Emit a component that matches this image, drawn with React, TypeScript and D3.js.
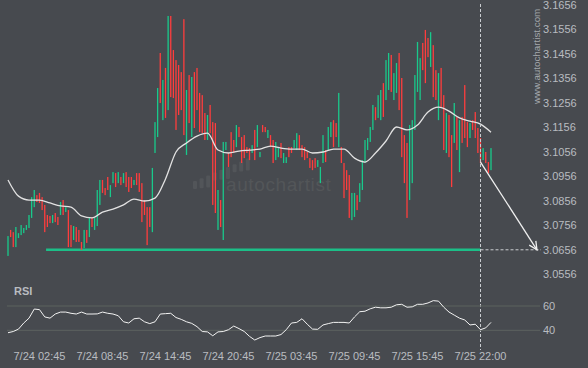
import React from 'react';
import * as d3 from 'd3';

// candle bodies, 15 min bars
const candleOpen = [
  3.0631, 3.0737, 3.0728, 3.0667, 3.0704, 3.0716, 3.0724, 3.0737, 3.0745, 3.0786,
  3.0830, 3.0879, 3.0888, 3.0871, 3.0839, 3.0798, 3.0794, 3.0765, 3.0806, 3.0790,
  3.0798, 3.0859, 3.0810, 3.0818, 3.0757, 3.0696, 3.0749, 3.0737, 3.0688, 3.0663,
  3.0737, 3.0708, 3.0790, 3.0737, 3.0753, 3.0839, 3.0941, 3.0908, 3.0953, 3.0871,
  3.0928, 3.0969, 3.0928, 3.0953, 3.0928, 3.0973, 3.0953, 3.0953, 3.0920, 3.0969,
  3.0969, 3.0928, 3.0859, 3.0830, 3.0830, 3.0728, 3.1051, 3.1116, 3.1459, 3.1185,
  3.1398, 3.1226, 3.1610, 3.1471, 3.1430, 3.1410, 3.1381, 3.1597, 3.1043, 3.1369,
  3.1116, 3.1381, 3.1398, 3.1296, 3.1287, 3.1214, 3.1104, 3.1247, 3.1177, 3.1173,
  3.0737, 3.0859, 3.0696, 3.1063, 3.1051, 3.1136, 3.1104, 3.1075, 3.1157, 3.1116,
  3.1124, 3.1075, 3.1071, 3.1051, 3.1145, 3.1075, 3.1034, 3.1165, 3.1157, 3.1112,
  3.1124, 3.1104, 3.1022, 3.1034, 3.1092, 3.1010, 3.1010, 3.1075, 3.1075, 3.1071,
  3.1063, 3.1124, 3.1083, 3.1075, 3.1055, 3.1030, 3.1022, 3.1030, 3.0994, 3.0928,
  3.1010, 3.1063, 3.1063, 3.1116, 3.1185, 3.1173, 3.1075, 3.1075, 3.1010, 3.0981,
  3.0961, 3.0777, 3.0790, 3.0879, 3.0851, 3.0900, 3.1010, 3.1063, 3.1096, 3.1145,
  3.1238, 3.1194, 3.1185, 3.1336, 3.1267, 3.1308, 3.1451, 3.1267, 3.1296, 3.1459,
  3.1357, 3.1124, 3.1092, 3.0859, 3.0928, 3.1145, 3.1300, 3.1267, 3.1500, 3.1553,
  3.1520, 3.1402, 3.1491, 3.1389, 3.1185, 3.1398, 3.1287, 3.1051, 3.1206, 3.1124,
  3.1092, 3.1198, 3.0973, 3.1198, 3.1328, 3.1177, 3.1112, 3.1185, 3.1218, 3.1153,
  3.1112, 3.1022, 3.1055, 3.1014, 3.0981,
];
const candleClose = [
  3.0712, 3.0708, 3.0667, 3.0749, 3.0724, 3.0757, 3.0745, 3.0757, 3.0798, 3.0871,
  3.0900, 3.0851, 3.0847, 3.0818, 3.0728, 3.0749, 3.0765, 3.0798, 3.0769, 3.0757,
  3.0851, 3.0798, 3.0830, 3.0667, 3.0667, 3.0753, 3.0688, 3.0688, 3.0655, 3.0737,
  3.0684, 3.0786, 3.0749, 3.0786, 3.0900, 3.0941, 3.0888, 3.0879, 3.0900, 3.0920,
  3.0973, 3.0912, 3.0973, 3.0920, 3.0969, 3.0912, 3.0892, 3.0908, 3.0941, 3.0920,
  3.0892, 3.0769, 3.0798, 3.0675, 3.0749, 3.0990, 3.1177, 3.1316, 3.1255, 3.1349,
  3.1194, 3.1610, 3.1279, 3.1275, 3.1145, 3.1206, 3.1226, 3.1124, 3.1308, 3.1173,
  3.1361, 3.1153, 3.1226, 3.1136, 3.1132, 3.1104, 3.1206, 3.1132, 3.0839, 3.0806,
  3.0900, 3.0749, 3.1096, 3.1096, 3.0994, 3.1034, 3.1051, 3.1165, 3.1116, 3.1010,
  3.1030, 3.1051, 3.1022, 3.1083, 3.1022, 3.1165, 3.1055, 3.1136, 3.1136, 3.1145,
  3.1075, 3.1010, 3.1096, 3.1071, 3.1030, 3.1051, 3.1034, 3.1034, 3.1051, 3.1104,
  3.1132, 3.1063, 3.1034, 3.1022, 3.1030, 3.0990, 3.0981, 3.0990, 3.1022, 3.0994,
  3.1124, 3.1014, 3.1157, 3.1177, 3.1075, 3.1116, 3.1296, 3.1010, 3.0867, 3.0900,
  3.0786, 3.0888, 3.0888, 3.0818, 3.0928, 3.1022, 3.1104, 3.1112, 3.1157, 3.1247,
  3.1185, 3.1287, 3.1308, 3.1198, 3.1430, 3.1459, 3.1300, 3.1377, 3.1418, 3.1226,
  3.1034, 3.0928, 3.0786, 3.1165, 3.1185, 3.1369, 3.1504, 3.1438, 3.1389, 3.1336,
  3.1442, 3.1544, 3.1279, 3.1267, 3.1377, 3.1238, 3.1063, 3.1214, 3.1034, 3.0912,
  3.1255, 3.1063, 3.1185, 3.1092, 3.1112, 3.1075, 3.1173, 3.1145, 3.1112, 3.1051,
  3.1010, 3.1071, 3.1010, 3.0969, 3.1071,
];

// moving average, one value every 4th bar
const maStep = 4;
const maValues = [
  3.0941, 3.0875, 3.0859, 3.0859, 3.0847, 3.0835, 3.0830, 3.0794, 3.0786, 3.0810,
  3.0822, 3.0839, 3.0863, 3.0855, 3.0867, 3.0945, 3.1055, 3.1092, 3.1120, 3.1132,
  3.1063, 3.1051, 3.1059, 3.1063, 3.1067, 3.1079, 3.1071, 3.1067, 3.1067, 3.1051,
  3.1055, 3.1067, 3.1067, 3.1030, 3.1014, 3.1051, 3.1100, 3.1157, 3.1145, 3.1165,
  3.1218, 3.1238, 3.1222, 3.1194, 3.1181, 3.1169, 3.1136,
];

// RSI, one value every 2nd bar
const rsiStep = 2;
const rsiValues = [
  38, 39, 41, 46, 50, 57.5, 57, 51, 50, 53.4,
  55, 55, 54, 53.4, 55, 53.4, 53.4, 53.5, 55, 54,
  53.4, 52, 47, 46, 49.5, 50, 47, 45.5, 47, 53.4,
  53.7, 54, 50.5, 49, 47, 45.7, 43, 39, 38.7, 35.5,
  38.7, 39, 40.5, 43.5, 41.4, 39, 35, 32, 34, 35.3,
  35.3, 35.3, 36.5, 40.5, 46, 46.5, 49.5, 45, 41, 40.8,
  44.4, 45.5, 46.5, 46.5, 46.5, 46, 51, 55.3, 55.7, 57.7,
  59, 58.5, 58.5, 59, 61, 61.4, 59, 59.3, 61.4, 61.4,
  62.5, 64.4, 64, 59, 55, 52.5, 50, 48.5, 44.4, 45,
  40.5, 42, 46.5,
];

const priceTicks = [3.1656, 3.1556, 3.1456, 3.1356, 3.1256, 3.1156, 3.1056, 3.0956, 3.0856, 3.0756, 3.0656, 3.0556];
const rsiTicks = [60, 40];
const timeLabels = ['7/24 02:45', '7/24 08:45', '7/24 14:45', '7/24 20:45', '7/25 03:45', '7/25 09:45', '7/25 15:45', '7/25 22:00'];
const timeLabelBars = [12, 36, 60, 84, 108, 132, 156, 180];

const supportLevel = 3.0656;
const supportStartBar = 14.5;
const signalBar = 180;
const signalPrice = 3.1014;
const targetBar = 201.5;
const targetPrice = 3.0656;

const BG = '#474a4f';
const GREEN = '#19c98b';
const RED = '#ff3d3d';
const TEXT = '#b9bcc0';
const FONT = "'Liberation Sans', Arial, Helvetica, sans-serif";

export default function App() {
  const width = 588;
  const height = 368;
  const lastBar = candleOpen.length - 1;

  const x = d3.scaleLinear().domain([0, lastBar]).range([8, 491]);
  const y = d3.scaleLinear().domain([3.0556, 3.1656]).range([274.3, 4.7]);
  const yRsi = d3.scaleLinear().domain([40, 60]).range([330.3, 306]);

  const maLine = d3
    .line<number>()
    .x((_, k) => x(k * maStep))
    .y((v) => y(v))
    .curve(d3.curveMonotoneX);

  const rsiLine = d3
    .line<number>()
    .x((_, k) => x(k * rsiStep))
    .y((v) => yRsi(v));

  // forecast arrow
  const ax0 = x(signalBar);
  const ay0 = y(signalPrice);
  const ax1 = x(targetBar);
  const ay1 = y(targetPrice);
  const ang = Math.atan2(ay1 - ay0, ax1 - ax0);
  const headLen = 9;
  const wing = (a: number) => [ax1 - headLen * Math.cos(ang + a), ay1 - headLen * Math.sin(ang + a)];
  const [w1x, w1y] = wing(0.45);
  const [w2x, w2y] = wing(-0.45);

  // faint logo bars of the watermark
  const logo = d3.range(9).map((j) => ({ lx: 193 + j * 6.6, top: 181 - j * 2.8, h: 8 + (j % 3) * 2 }));

  return (
    <svg
      width={width}
      height={height}
      style={{ position: 'fixed', left: 0, top: 0, display: 'block', background: BG }}
      fontFamily={FONT}
    >
      <rect x={0} y={0} width={width} height={height} fill={BG} />

      {/* watermark */}
      <g fill="#525559">
        {logo.map((b, j) => (
          <rect key={j} x={b.lx} y={b.top} width={4} height={b.h} rx={1} />
        ))}
        <text x={226} y={191} fontSize={19} letterSpacing={0.6} fill="#535659">
          autochartist
        </text>
      </g>
      <text transform="translate(540,104) rotate(-90)" fontSize={9.8} fill="#a4a7ab">
        www.autochartist.com
      </text>

      {/* price labels */}
      {priceTicks.map((t) => (
        <text key={t} x={543} y={y(t)} dy="0.35em" fontSize={11} fill={TEXT}>
          {t.toFixed(4)}
        </text>
      ))}

      {/* support level */}
      <line
        x1={x(supportStartBar)}
        x2={x(signalBar)}
        y1={y(supportLevel)}
        y2={y(supportLevel)}
        stroke="#1cbf88"
        strokeWidth={2.5}
      />
      <line
        x1={x(signalBar)}
        x2={541}
        y1={y(supportLevel)}
        y2={y(supportLevel)}
        stroke="#c9ccd0"
        strokeWidth={1}
        strokeDasharray="3,2"
      />

      {/* candles */}
      {candleOpen.map((o, i) => {
        const c = candleClose[i];
        const top = y(Math.max(o, c));
        const h = Math.max(1, Math.abs(y(o) - y(c)));
        return (
          <rect key={i} x={x(i) - 0.65} y={top} width={1.3} height={h} fill={c >= o ? GREEN : RED} />
        );
      })}

      {/* moving average */}
      <path d={maLine(maValues) || ''} fill="none" stroke="#e2e2e2" strokeWidth={1.3} />

      {/* signal time */}
      <line x1={x(signalBar)} x2={x(signalBar)} y1={4} y2={350} stroke="#c9ccd0" strokeWidth={1} strokeDasharray="3,2" />

      {/* forecast arrow */}
      <g stroke="#f0f0f0" strokeWidth={1.3} fill="none">
        <line x1={ax0} y1={ay0} x2={ax1} y2={ay1} />
        <polyline points={`${w1x},${w1y} ${ax1},${ay1} ${w2x},${w2y}`} />
      </g>

      {/* RSI panel */}
      <text x={14} y={295} fontSize={11} fontWeight="bold" fill={TEXT}>
        RSI
      </text>
      {rsiTicks.map((t) => (
        <g key={t}>
          <line x1={7} x2={540} y1={yRsi(t)} y2={yRsi(t)} stroke="#5d625f" strokeWidth={1} />
          <text x={543} y={yRsi(t)} dy="0.35em" fontSize={11} fill={TEXT}>
            {t}
          </text>
        </g>
      ))}
      <path d={rsiLine(rsiValues) || ''} fill="none" stroke="#f2f2f2" strokeWidth={1} />

      {/* time labels */}
      {timeLabels.map((l, k) => (
        <text key={l} x={x(timeLabelBars[k])} y={360} textAnchor="middle" fontSize={11} fill={TEXT}>
          {l}
        </text>
      ))}
    </svg>
  );
}
